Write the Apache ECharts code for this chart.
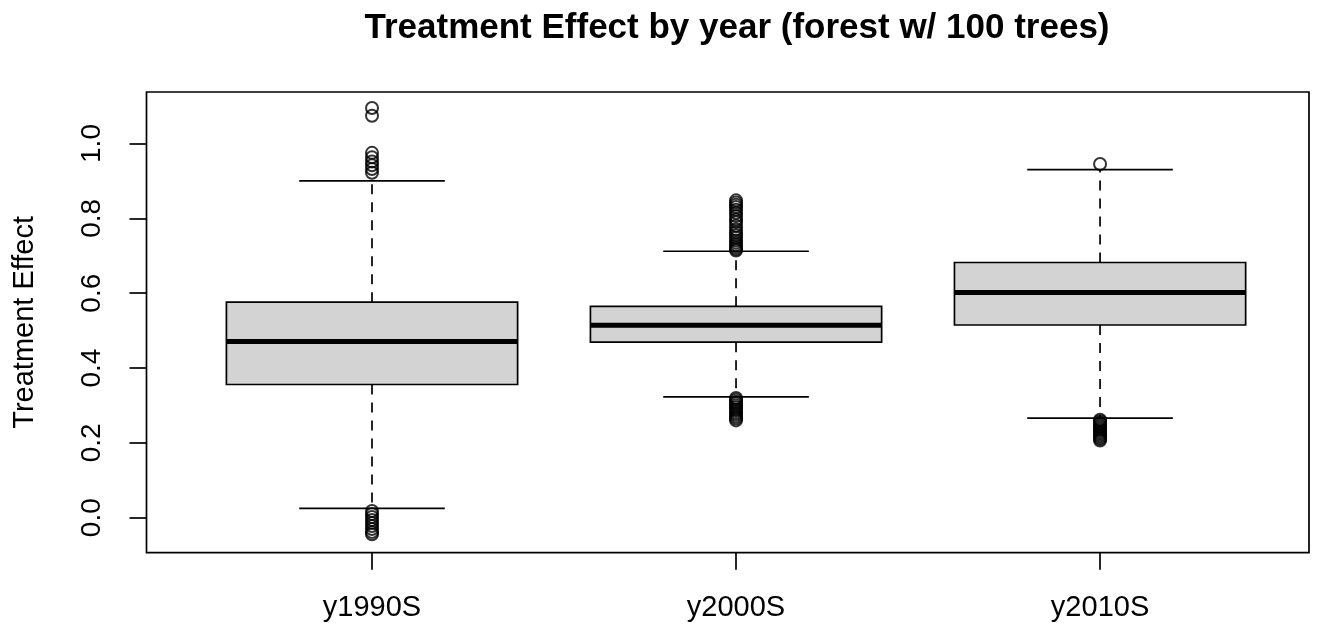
<!DOCTYPE html>
<html>
<head>
<meta charset="utf-8">
<title>Treatment Effect by year</title>
<script src="https://cdn.jsdelivr.net/npm/echarts@6/dist/echarts.min.js"></script>
<style>
  html, body { margin: 0; padding: 0; background: #ffffff; }
  #chart { width: 1325px; height: 627px; }
</style>
</head>
<body>
<div id="chart"></div>
<script>
// Box statistics per decade
const categories = ['y1990S', 'y2000S', 'y2010S'];
const whiskerLow = [0.025, 0.323, 0.266];
const quartile1 = [0.356, 0.469, 0.515];
const medians = [0.471, 0.514, 0.602];
const quartile3 = [0.576, 0.565, 0.682];
const whiskerHigh = [0.900, 0.712, 0.930];

// Points beyond the whiskers
const outliers1990 = [1.095, 1.074, 0.975, 0.963, 0.952, 0.942, 0.932, 0.922,
  0.018, 0.010, 0.002, -0.006, -0.014, -0.022, -0.030, -0.038, -0.044];
const outliers2000 = [0.848, 0.842, 0.836, 0.830, 0.823, 0.815, 0.806, 0.797, 0.790,
  0.780, 0.770, 0.762, 0.755, 0.748, 0.741, 0.735, 0.729, 0.723, 0.718, 0.714,
  0.320, 0.315, 0.310, 0.305, 0.300, 0.295, 0.290, 0.285, 0.280, 0.275, 0.270, 0.265, 0.260];
const outliers2010 = [0.945,
  0.262, 0.258, 0.254, 0.250, 0.246, 0.242, 0.238, 0.234, 0.230, 0.226, 0.222,
  0.218, 0.214, 0.210, 0.206];
const outlierGroups = [outliers1990, outliers2000, outliers2010];

const yTicks = [0, 0.2, 0.4, 0.6, 0.8, 1.0];
const xTicks = [1, 2, 3];

const BOX_WIDTH = 0.8;
const FONT = '"Liberation Sans", Arial, Helvetica, sans-serif';

const boxData = categories.map((c, i) => [i + 1, whiskerLow[i], quartile1[i], medians[i], quartile3[i], whiskerHigh[i]]);
const outlierData = [];
outlierGroups.forEach((g, i) => g.forEach(v => outlierData.push([i + 1, v])));

function renderBox(params, api) {
  const x = api.value(0);
  const lo = api.coord([x, api.value(1)]);
  const q1 = api.coord([x, api.value(2)]);
  const md = api.coord([x, api.value(3)]);
  const q3 = api.coord([x, api.value(4)]);
  const hi = api.coord([x, api.value(5)]);
  const bw = api.size([BOX_WIDTH, 0])[0];
  const cx = q1[0];
  const thin = { stroke: '#000', lineWidth: 1.7 };
  const dashed = { stroke: '#000', lineWidth: 1.7, lineDash: [10, 8] };
  return {
    type: 'group',
    children: [
      { type: 'line', shape: { x1: cx, y1: q3[1], x2: cx, y2: hi[1] }, style: dashed },
      { type: 'line', shape: { x1: cx, y1: q1[1], x2: cx, y2: lo[1] }, style: dashed },
      { type: 'line', shape: { x1: cx - bw / 4, y1: hi[1], x2: cx + bw / 4, y2: hi[1] }, style: thin },
      { type: 'line', shape: { x1: cx - bw / 4, y1: lo[1], x2: cx + bw / 4, y2: lo[1] }, style: thin },
      { type: 'rect', shape: { x: cx - bw / 2, y: q3[1], width: bw, height: q1[1] - q3[1] },
        style: { fill: '#d3d3d3', stroke: '#000', lineWidth: 1.7 } },
      { type: 'line', shape: { x1: cx - bw / 2, y1: md[1], x2: cx + bw / 2, y2: md[1] },
        style: { stroke: '#000', lineWidth: 5 } }
    ]
  };
}

const chart = echarts.init(document.getElementById('chart'), null, { renderer: 'canvas' });
chart.setOption({
  backgroundColor: '#ffffff',
  animation: false,
  graphic: [{
    type: 'text',
    x: 737, y: 28,
    style: {
      text: 'Treatment Effect by year (forest w/ 100 trees)',
      font: 'bold 35px ' + FONT,
      fill: '#000',
      align: 'center',
      verticalAlign: 'middle'
    }
  }],
  grid: {
    left: 146.5, right: 16, top: 92, bottom: 74.3,
    show: true, borderColor: '#000', borderWidth: 1.7, backgroundColor: 'transparent'
  },
  xAxis: {
    type: 'value',
    min: 0.3805, max: 3.574,
    axisLine: { show: false, onZero: false },
    splitLine: { show: false },
    axisTick: { show: true, customValues: xTicks, length: 17, lineStyle: { color: '#000', width: 1.7 } },
    axisLabel: {
      customValues: xTicks, margin: 41,
      fontFamily: FONT, fontSize: 29, color: '#000',
      formatter: v => categories[Math.round(v) - 1] || ''
    }
  },
  yAxis: {
    type: 'value',
    min: -0.0935, max: 1.1376,
    name: 'Treatment Effect',
    nameLocation: 'middle',
    nameGap: 107,
    nameRotate: 90,
    nameTextStyle: { fontFamily: FONT, fontSize: 29, color: '#000' },
    axisLine: { show: false, onZero: false },
    splitLine: { show: false },
    axisTick: { show: true, customValues: yTicks, length: 17, lineStyle: { color: '#000', width: 1.7 } },
    axisLabel: {
      customValues: yTicks, rotate: 90, margin: 40,
      fontFamily: FONT, fontSize: 28, color: '#000',
      formatter: v => v.toFixed(1)
    }
  },
  series: [
    {
      type: 'custom',
      name: 'boxes',
      renderItem: renderBox,
      encode: { x: 0, y: [1, 2, 3, 4, 5] },
      data: boxData,
      z: 2
    },
    {
      type: 'scatter',
      name: 'outliers',
      symbol: 'circle',
      symbolSize: 12,
      itemStyle: { color: 'transparent', borderColor: '#000', borderWidth: 2 },
      data: outlierData,
      z: 3
    }
  ]
});
</script>
</body>
</html>
